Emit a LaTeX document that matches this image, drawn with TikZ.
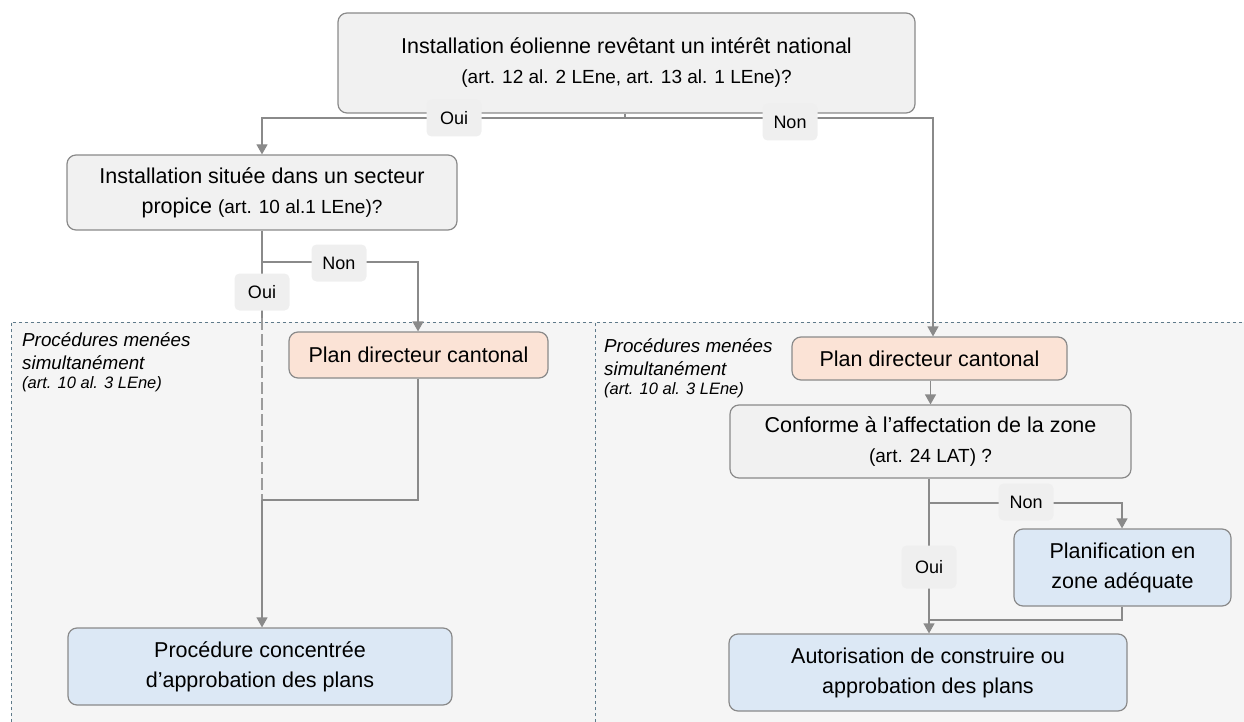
\documentclass[tikz,border=0pt]{standalone}
\usepackage{fontspec}
\setmainfont{Liberation Sans}
\usetikzlibrary{arrows.meta}
\definecolor{lineg}{HTML}{8A8A8A}
\definecolor{boxg}{HTML}{F1F1F1}
\definecolor{peach}{HTML}{FBE3D6}
\definecolor{lblue}{HTML}{DCE8F5}
\definecolor{regfill}{HTML}{F5F5F5}
\definecolor{regline}{HTML}{5F7A8A}
\definecolor{lblfill}{HTML}{EFEFEF}
\tikzset{
  box/.style={draw=lineg, line width=1.2pt, rounded corners=9pt, align=center, inner sep=0pt, font=\fontsize{21.5}{30}\selectfont},
  graybox/.style={box, fill=boxg},
  peachbox/.style={box, fill=peach},
  bluebox/.style={box, fill=lblue},
  lbl/.style={fill=lblfill, rounded corners=5pt, inner sep=0pt, minimum width=55pt, minimum height=37pt, font=\fontsize{18}{20}\selectfont},
  conn/.style={draw=lineg, line width=1.2pt},
  arr/.style={conn, -{Triangle[width=11pt,length=10pt]}},
  regtext/.style={anchor=north west, align=left, font=\itshape\fontsize{18.8}{23}\selectfont, inner sep=0pt},
}
\newcommand{\smf}{\fontsize{19}{22}\selectfont}
\newcommand{\rsmf}{\fontsize{16.5}{20}\selectfont}
\begin{document}
\begin{tikzpicture}[x=1pt,y=-1pt]
\useasboundingbox (0,0) rectangle (1244,722);
% regions
\fill[regfill] (11,322) rectangle (598,722);
\draw[regline, dashed, line width=1pt] (11,722) -- (11,322) -- (598,322) -- (598,722);
\fill[regfill] (595,322) rectangle (1244,722);
\draw[regline, dashed, line width=1pt] (595,722) -- (595,322) -- (1244,322);
\node[regtext] (rt1) at (22,332) {Procédures menées\\simultanément\\[-4pt]{\rsmf (art. 10 al. 3 LEne)}};
\node[regtext] (rt2) at (604,338) {Procédures menées\\simultanément\\[-4pt]{\rsmf (art. 10 al. 3 LEne)}};

% boxes
\node[graybox, minimum width=577pt, minimum height=100pt] (top) at (626.5,63)
  {Installation éolienne revêtant un intérêt national\\{\smf (art. 12 al. 2 LEne, art. 13 al. 1 LEne)?}};
\node[graybox, minimum width=390pt, minimum height=75pt] (sect) at (262,192.5)
  {Installation située dans un secteur\\propice {\smf(art. 10 al.1 LEne)?}};
\node[peachbox, minimum width=259pt, minimum height=46pt] (pdc1) at (418.5,355) {Plan directeur cantonal};
\node[bluebox, minimum width=384pt, minimum height=77pt] (pcap) at (260,666.5) {Procédure concentrée\\d’approbation des plans};
\node[peachbox, minimum width=275pt, minimum height=43pt] (pdc2) at (929.5,358.5) {Plan directeur cantonal};
\node[graybox, minimum width=401pt, minimum height=73pt] (conf) at (930.5,441.5)
  {Conforme à l’affectation de la zone\\{\smf(art. 24 LAT) ?}};
\node[bluebox, minimum width=217pt, minimum height=77pt] (plan) at (1122.5,567.5) {Planification en\\zone adéquate};
\node[bluebox, minimum width=398pt, minimum height=77pt] (auto) at (928,672.5) {Autorisation de construire ou\\approbation des plans};

% coordinates
\coordinate (j0) at (625,118);
\coordinate (jl) at (262,118);
\coordinate (jr) at (933,118);
\coordinate (j1) at (262,262);
\coordinate (j1r) at (418,262);
\coordinate (dashs) at (262,318);
\coordinate (j2) at (262,500);
\coordinate (j2r) at (418,500);
\coordinate (j3) at (929,503);
\coordinate (j3r) at (1122,503);
\coordinate (j4) at (929,620);
\coordinate (j4r) at (1122,620);

% connectors
\draw[conn] (top.south -| j0) -- (j0);
\draw[arr] (j0) -- (jl) -- (sect.north -| jl);
\draw[arr] (j0) -- (jr) -- (pdc2.north -| jr);
\draw[conn] (sect.south -| j1) -- (dashs);
\draw[conn, dash pattern=on 12pt off 4pt, lineg!85] (dashs) -- (j2);
\draw[arr] (j1) -- (j1r) -- (pdc1.north -| j1r);
\draw[conn] (pdc1.south -| j2r) -- (j2r) -- (j2);
\draw[arr] (j2) -- (pcap.north -| j2);
\draw[arr] (pdc2.south -| conf.north) -- (conf.north);
\draw[arr] (conf.south -| j3) -- (auto.north -| j3);
\draw[arr] (j3) -- (j3r) -- (plan.north -| j3r);
\draw[conn] (plan.south -| j4r) -- (j4r) -- (j4);

% labels
\node[lbl] (l1) at (454,118) {Oui};
\node[lbl] (l2) at (790,122) {Non};
\node[lbl] (l3) at (339,263) {Non};
\node[lbl] (l4) at (262,292) {Oui};
\node[lbl] (l5) at (1026,502) {Non};
\node[lbl, minimum height=43pt] (l6) at (929,567) {Oui};
\end{tikzpicture}
\end{document}
